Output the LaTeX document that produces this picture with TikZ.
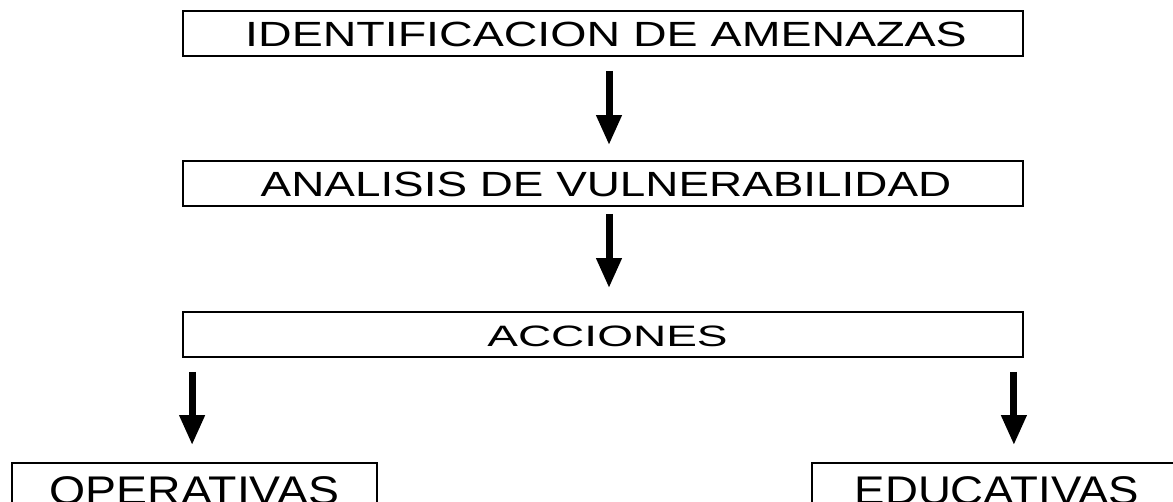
\documentclass[tikz,border=0pt]{standalone}
\usepackage{fontspec}
\setmainfont{Liberation Sans}
\usetikzlibrary{arrows.meta}
\newcommand\hstretch[2]{\scalebox{#1}[1]{#2}}
\begin{document}
\begin{tikzpicture}[x=1pt,y=-1pt,
  box/.style={draw=black, line width=1.8pt, inner sep=0pt, minimum height=45pt},
  bigtxt/.style={font=\fontsize{35}{35}\selectfont, text height=27pt, text depth=0pt},
  midtxt/.style={font=\fontsize{29.5}{30}\selectfont, text height=25pt, text depth=0pt},
  lowtxt/.style={font=\fontsize{40}{40}\selectfont, minimum height=60pt, text height=29pt, text depth=5.8pt},
  arr/.style={line width=7pt, -{Triangle[width=24pt,length=30pt]}}]
\useasboundingbox (0,0) rectangle (1173,502);
\clip (0,0) rectangle (1173,502);
\fill[white] (0,0) rectangle (1173,502);
\node[box, minimum width=840pt, bigtxt] (ide) at (603,33.5) {\hspace*{6pt}\hstretch{1.33}{IDENTIFICACION DE AMENAZAS}};
\node[box, minimum width=840pt, bigtxt] (ana) at (603,183.5) {\hspace*{6pt}\hstretch{1.31}{ANALISIS DE VULNERABILIDAD}};
\node[box, minimum width=840pt, midtxt] (acc) at (603,334.5) {\hspace*{9pt}\hstretch{1.56}{ACCIONES}};
\node[box, minimum width=365pt, lowtxt] (op) at (194.5,493) {\hstretch{1.16}{OPERATIVAS}};
\node[box, minimum width=370pt, lowtxt] (edu) at (997,493) {\hstretch{1.14}{EDUCATIVAS}};
\draw[arr, shorten <=14pt, shorten >=15pt] ([xshift=6pt]ide.south) -- ([xshift=6pt]ana.north);
\draw[arr, shorten <=7pt, shorten >=23pt] ([xshift=6pt]ana.south) -- ([xshift=6pt]acc.north);
\coordinate (la) at ([xshift=10pt]acc.south west);
\coordinate (ra) at ([xshift=-10pt]acc.south east);
\draw[arr, shorten <=14pt, shorten >=17pt] (la) -- (la |- op.north);
\draw[arr, shorten <=14pt, shorten >=17pt] (ra) -- (ra |- edu.north);
\end{tikzpicture}
\end{document}
